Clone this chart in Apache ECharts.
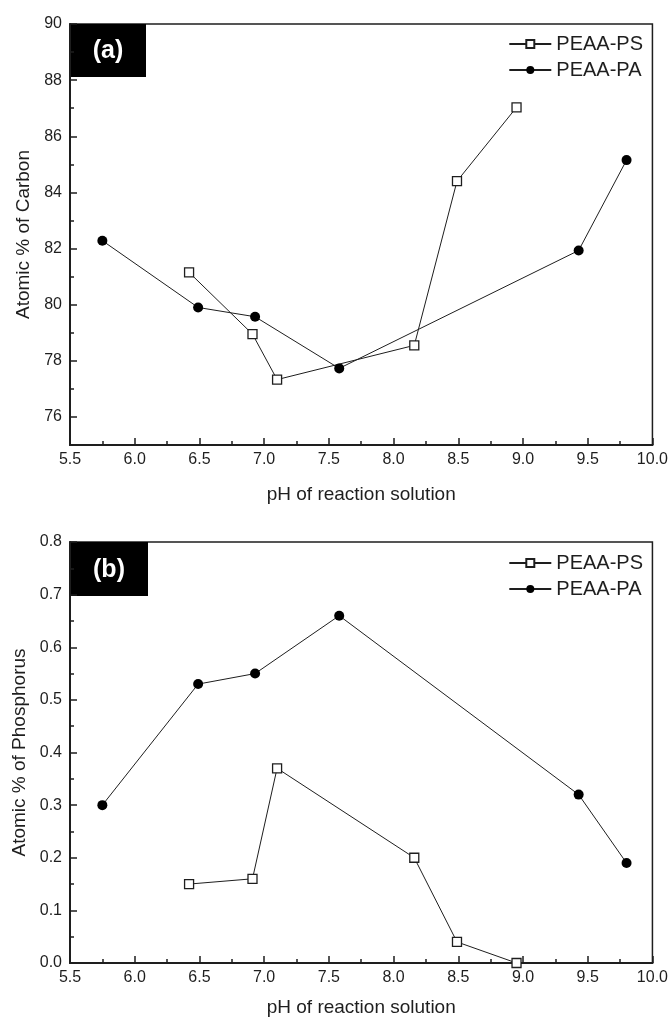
<!DOCTYPE html>
<html>
<head>
<meta charset="utf-8">
<script src="https://cdn.jsdelivr.net/npm/echarts@6/dist/echarts.min.js"></script>
<style>
  html, body { margin: 0; padding: 0; background: #fff; }
  #main { width: 671px; height: 1020px; }
</style>
</head>
<body>
<div id="main"></div>
<script>
// pH values (x) for each sample set
var phPS = [6.42, 6.91, 7.10, 8.16, 8.49, 8.95];
var phPA = [5.75, 6.49, 6.93, 7.58, 9.43, 9.80];
// (a) atomic % of carbon
var carbonPS = [81.15, 78.95, 77.33, 78.55, 84.40, 87.03];
var carbonPA = [82.28, 79.90, 79.57, 77.73, 81.93, 85.15];
// (b) atomic % of phosphorus
var phosPS = [0.15, 0.16, 0.37, 0.20, 0.04, 0.00];
var phosPA = [0.30, 0.53, 0.55, 0.66, 0.32, 0.19];
// tick labels
var xTicks = [5.5, 6.0, 6.5, 7.0, 7.5, 8.0, 8.5, 9.0, 9.5, 10.0];
var carbonTicks = [76, 78, 80, 82, 84, 86, 88, 90];
var carbonMinor = [75, 77, 79, 81, 83, 85, 87, 89];
var phosTicks = [0.0, 0.1, 0.2, 0.3, 0.4, 0.5, 0.6, 0.7, 0.8];

var names = ['PEAA-PS', 'PEAA-PA'];
var ink = '#1e1e1e';
var font = 'Liberation Sans, Arial, sans-serif';

function pairs(xs, ys) {
    return xs.map(function (x, i) { return [x, ys[i]]; });
}

function xAxisFor(grid) {
    return {
        type: 'value', gridIndex: grid,
        min: xTicks[0], max: xTicks[xTicks.length - 1], interval: 0.5,
        name: 'pH of reaction solution', nameLocation: 'middle',
        nameGap: grid == 0 ? 40 : 35,
        nameTextStyle: { fontSize: 19, color: ink, fontFamily: font },
        axisLine: { lineStyle: { color: ink, width: 2 } },
        axisTick: { inside: true, length: 7, lineStyle: { color: ink, width: 1.5 } },
        minorTick: { show: true, splitNumber: 2, length: 4, lineStyle: { color: ink, width: 1.5 } },
        axisLabel: { fontSize: 16, color: ink, fontFamily: font, margin: 7,
            formatter: function (v) { return v.toFixed(1); } },
        splitLine: { show: false }
    };
}

var lineStyle = { color: ink, width: 1 };
function psSeries(x, y, data) {
    return {
        name: names[0], type: 'line', xAxisIndex: x, yAxisIndex: y, data: data,
        symbol: 'rect', symbolSize: 9,
        itemStyle: { color: '#fff', borderColor: ink, borderWidth: 1.3 },
        lineStyle: lineStyle
    };
}
function paSeries(x, y, data) {
    return {
        name: names[1], type: 'line', xAxisIndex: x, yAxisIndex: y, data: data,
        symbol: 'circle', symbolSize: 10,
        itemStyle: { color: '#000', borderColor: '#000', borderWidth: 0 },
        lineStyle: lineStyle
    };
}

function legendFor(top) {
    return {
        data: names, orient: 'vertical', right: 23, top: top,
        itemWidth: 42, itemHeight: 10, itemGap: 6,
        textStyle: { fontSize: 20, color: ink, fontFamily: font }
    };
}

function tagBox(text, x, y, w, h) {
    return {
        type: 'group', left: x, top: y,
        children: [
            { type: 'rect', shape: { x: 0, y: 0, width: w, height: h }, style: { fill: '#000' } },
            { type: 'text', x: w / 2, y: h / 2 + 1,
              style: { text: text, fill: '#fff', font: 'bold 25px ' + font, align: 'center', verticalAlign: 'middle' } }
        ]
    };
}

var chart = echarts.init(document.getElementById('main'));
var option = {
    animation: false,
    grid: [
        { left: 70, top: 24, width: 583, height: 421, show: true, borderColor: ink, borderWidth: 1.5 },
        { left: 70, top: 542, width: 583, height: 421, show: true, borderColor: ink, borderWidth: 1.5 }
    ],
    legend: [legendFor(29), legendFor(548)],
    xAxis: [xAxisFor(0), xAxisFor(1)],
    yAxis: [
        {
            type: 'value', gridIndex: 0, min: 75, max: 90,
            name: 'Atomic % of Carbon', nameLocation: 'middle', nameGap: 37,
            nameTextStyle: { fontSize: 19, color: ink, fontFamily: font },
            axisLine: { lineStyle: { color: ink, width: 2 } },
            axisTick: { inside: true, length: 7, customValues: carbonTicks, lineStyle: { color: ink, width: 1.5 } },
            axisLabel: { fontSize: 16, color: ink, fontFamily: font, margin: 8, customValues: carbonTicks },
            splitLine: { show: false }
        },
        {
            type: 'value', gridIndex: 0, min: 75, max: 90, position: 'left', offset: 0,
            axisLine: { show: false },
            axisTick: { inside: true, length: 4, customValues: carbonMinor, lineStyle: { color: ink, width: 1.5 } },
            axisLabel: { show: false },
            splitLine: { show: false }
        },
        {
            type: 'value', gridIndex: 1, min: phosTicks[0], max: phosTicks[phosTicks.length - 1], interval: 0.1,
            name: 'Atomic % of Phosphorus', nameLocation: 'middle', nameGap: 37,
            nameTextStyle: { fontSize: 19, color: ink, fontFamily: font },
            axisLine: { lineStyle: { color: ink, width: 2 } },
            axisTick: { inside: true, length: 7, lineStyle: { color: ink, width: 1.5 } },
            minorTick: { show: true, splitNumber: 2, length: 4, lineStyle: { color: ink, width: 1.5 } },
            axisLabel: { fontSize: 16, color: ink, fontFamily: font, margin: 8,
                formatter: function (v) { return v.toFixed(1); } },
            splitLine: { show: false }
        }
    ],
    series: [
        psSeries(0, 0, pairs(phPS, carbonPS)),
        paSeries(0, 0, pairs(phPA, carbonPA)),
        psSeries(1, 2, pairs(phPS, phosPS)),
        paSeries(1, 2, pairs(phPA, phosPA))
    ],
    graphic: [
        tagBox('(a)', 70, 24, 76, 53),
        tagBox('(b)', 70, 542, 78, 54)
    ]
};
chart.setOption(option);
</script>
</body>
</html>
